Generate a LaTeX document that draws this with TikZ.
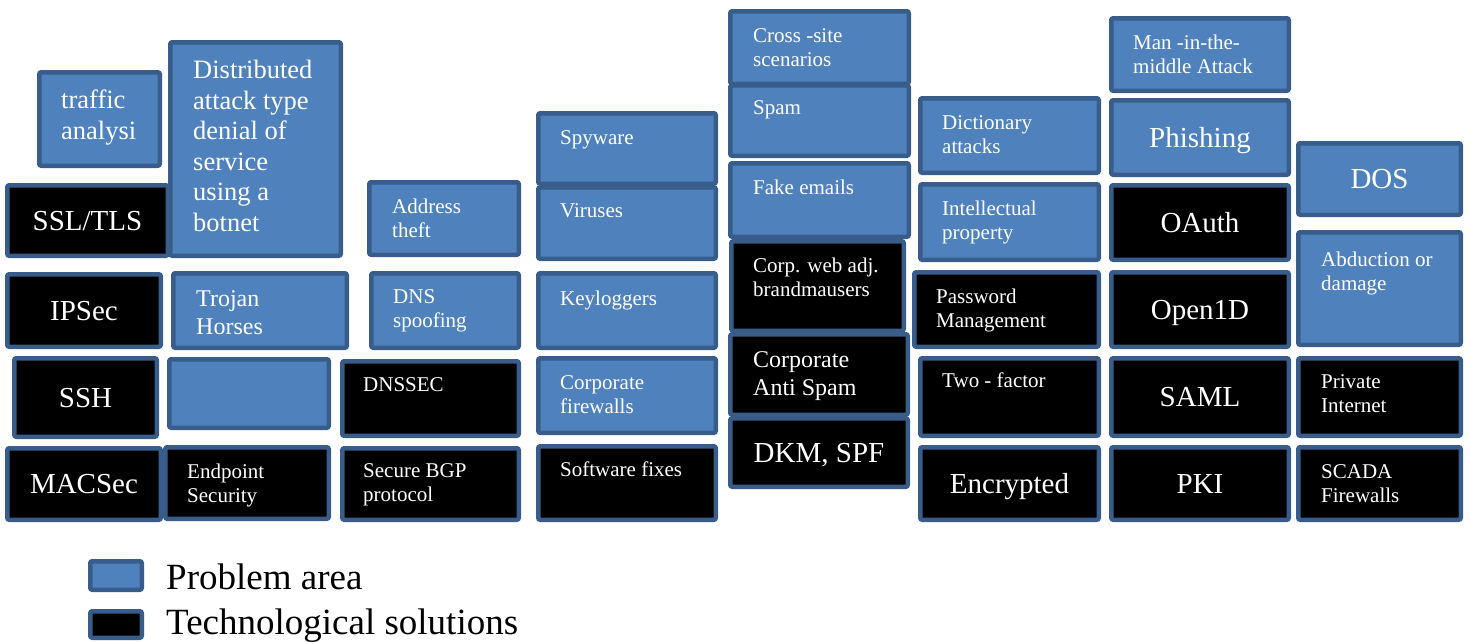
\documentclass[tikz,border=0pt]{standalone}
\usepackage{fontspec}
\setmainfont{Liberation Serif}
\usetikzlibrary{positioning}
\definecolor{ProbBlue}{HTML}{4F81BD}
\definecolor{EdgeBlue}{HTML}{385D8A}
\tikzstyle{Cell} = [draw=EdgeBlue, line width=4.5pt, rounded corners=2pt, anchor=north west, inner sep=0pt]
\tikzstyle{Problem} = [Cell, fill=ProbBlue]
\tikzstyle{Solution} = [Cell, fill=black]
\tikzstyle{Small} = [text=white, font=\fontsize{21}{24}\selectfont, align=left, anchor=north west, inner sep=0pt]
\tikzstyle{Medium} = [Small, font=\fontsize{24}{28}\selectfont]
\tikzstyle{Tall} = [Small, font=\fontsize{26.5}{30.5}\selectfont]
\tikzstyle{Large} = [text=white, font=\fontsize{29}{33}\selectfont, text height=19pt, text depth=0pt]
\tikzstyle{Legend} = [text=black, font=\fontsize{37}{44}\selectfont, text height=24.4pt, text depth=0pt, inner sep=0pt]

\begin{document}
\begin{tikzpicture}[x=1pt, y=-1pt]
    \useasboundingbox (0,0) rectangle (1470,641);
    % column 1
    \node[Problem, minimum width=120.5pt, minimum height=93.5pt] (traffic) at (37,70) {};
    \node[Tall] (traffic-t) at ([shift={(24pt,-20pt)}]traffic.north west) {traffic\\analysi};
    \node[Solution, Large, minimum width=160.5pt, minimum height=70.5pt] (ssl) at (5,183) {SSL/TLS};
    \node[Solution, Large, minimum width=153.5pt, minimum height=72.5pt] (ipsec) at (5,272) {IPSec};
    \node[Solution, Large, minimum width=142.5pt, minimum height=78.5pt] (ssh) at (12,356) {SSH};
    \node[Solution, Large, minimum width=153.5pt, minimum height=71.5pt] (macsec) at (5,446) {MACSec};
    % column 2
    \node[Problem, minimum width=170.5pt, minimum height=213.5pt] (ddos) at (168,40) {};
    \node[Tall] (ddos-t) at ([shift={(25pt,-20pt)}]ddos.north west) {Distributed\\attack type\\denial of\\service\\using a\\botnet};
    \node[Problem, minimum width=173.5pt, minimum height=74.5pt] (trojan) at (171,271) {};
    \node[Medium] (trojan-t) at ([shift={(25pt,-19pt)}]trojan.north west) {Trojan\\Horses};
    \node[Problem, minimum width=159.5pt, minimum height=68.5pt] (blank) at (167,357) {};
    \node[Solution, minimum width=163.5pt, minimum height=71.5pt] (endpoint) at (163,445) {};
    \node[Small] (endpoint-t) at ([shift={(24pt,-18.5pt)}]endpoint.north west) {Endpoint\\Security};
    % column 3
    \node[Problem, minimum width=149.5pt, minimum height=72.5pt] (address) at (367,180) {};
    \node[Small] (address-t) at ([shift={(25pt,-18.5pt)}]address.north west) {Address\\theft};
    \node[Problem, minimum width=147.5pt, minimum height=74.5pt] (dnsspoof) at (369,271) {};
    \node[Small] (dnsspoof-t) at ([shift={(24pt,-18.5pt)}]dnsspoof.north west) {DNS\\spoofing};
    \node[Solution, minimum width=176.5pt, minimum height=74.5pt] (dnssec) at (340,359) {};
    \node[Small] (dnssec-t) at ([shift={(23pt,-18pt)}]dnssec.north west) {DNSSEC};
    \node[Solution, minimum width=176.5pt, minimum height=71.5pt] (bgp) at (340,446) {};
    \node[Small] (bgp-t) at ([shift={(23pt,-17pt)}]bgp.north west) {Secure BGP\\protocol};
    % column 4
    \node[Problem, minimum width=177.5pt, minimum height=70.5pt] (spyware) at (536,111) {};
    \node[Small] (spyware-t) at ([shift={(24pt,-19pt)}]spyware.north west) {Spyware};
    \node[Problem, minimum width=177.5pt, minimum height=71.5pt] (viruses) at (536,185) {};
    \node[Small] (viruses-t) at ([shift={(24pt,-18pt)}]viruses.north west) {Viruses};
    \node[Problem, minimum width=177.5pt, minimum height=74.5pt] (keylog) at (536,271) {};
    \node[Small] (keylog-t) at ([shift={(24pt,-20pt)}]keylog.north west) {Keyloggers};
    \node[Problem, minimum width=177.5pt, minimum height=74.5pt] (corpfw) at (536,356) {};
    \node[Small] (corpfw-t) at ([shift={(24pt,-19pt)}]corpfw.north west) {Corporate\\firewalls};
    \node[Solution, minimum width=177.5pt, minimum height=73.5pt] (swfix) at (536,444) {};
    \node[Small] (swfix-t) at ([shift={(24pt,-18pt)}]swfix.north west) {Software fixes};
    % column 5
    \node[Problem, minimum width=178.5pt, minimum height=72.5pt] (xss) at (728,9) {};
    \node[Small] (xss-t) at ([shift={(25pt,-19pt)}]xss.north west) {Cross -site\\scenarios};
    \node[Problem, minimum width=178.5pt, minimum height=70.5pt] (spam) at (728,83) {};
    \node[Small] (spam-t) at ([shift={(25pt,-17pt)}]spam.north west) {Spam};
    \node[Problem, minimum width=178.5pt, minimum height=73.5pt] (fake) at (728,161) {};
    \node[Small] (fake-t) at ([shift={(25pt,-19pt)}]fake.north west) {Fake emails};
    \node[Solution, minimum width=172.5pt, minimum height=89.5pt] (corpweb) at (729,239) {};
    \node[Small] (corpweb-t) at ([shift={(24pt,-19pt)}]corpweb.north west) {Corp. web adj.\\brandmausers};
    \node[Solution, minimum width=177.5pt, minimum height=80.5pt] (antispam) at (728,332) {};
    \node[Medium] (antispam-t) at ([shift={(25pt,-19pt)}]antispam.north west) {Corporate\\Anti Spam};
    \node[Solution, Large, minimum width=177.5pt, minimum height=68.5pt] (dkm) at (728,416) {DKM, SPF};
    % column 6
    \node[Problem, minimum width=178.5pt, minimum height=74.5pt] (dict) at (918,96) {};
    \node[Small] (dict-t) at ([shift={(24pt,-19pt)}]dict.north west) {Dictionary\\attacks};
    \node[Problem, minimum width=178.5pt, minimum height=75.5pt] (iprop) at (918,182) {};
    \node[Small] (iprop-t) at ([shift={(24pt,-19pt)}]iprop.north west) {Intellectual\\property};
    \node[Solution, minimum width=184.5pt, minimum height=74.5pt] (pwd) at (912,270) {};
    \node[Small] (pwd-t) at ([shift={(24pt,-19pt)}]pwd.north west) {Password\\Management};
    \node[Solution, minimum width=178.5pt, minimum height=77.5pt] (twofac) at (918,356) {};
    \node[Small] (twofac-t) at ([shift={(24pt,-17pt)}]twofac.north west) {Two - factor};
    \node[Solution, Large, minimum width=178.5pt, minimum height=72.5pt] (encr) at (918,445) {Encrypted};
    % column 7
    \node[Problem, minimum width=177.5pt, minimum height=72.5pt] (mitm) at (1109,16) {};
    \node[Small] (mitm-t) at ([shift={(24pt,-19pt)}]mitm.north west) {Man -in-the-\\middle Attack};
    \node[Problem, Large, minimum width=177.5pt, minimum height=74.5pt] (phish) at (1109,98) {Phishing};
    \node[Solution, Large, minimum width=177.5pt, minimum height=74.5pt] (oauth) at (1109,183) {OAuth};
    \node[Solution, Large, minimum width=177.5pt, minimum height=74.5pt] (openid) at (1109,270) {Open1D};
    \node[Solution, Large, minimum width=177.5pt, minimum height=77.5pt] (saml) at (1109,356) {SAML};
    \node[Solution, Large, minimum width=177.5pt, minimum height=72.5pt] (pki) at (1109,445) {PKI};
    % column 8
    \node[Problem, Large, minimum width=162.5pt, minimum height=71.5pt] (dos) at (1296,141) {DOS};
    \node[Problem, minimum width=162.5pt, minimum height=112.5pt] (abduct) at (1296,230) {};
    \node[Small] (abduct-t) at ([shift={(25pt,-22pt)}]abduct.north west) {Abduction or\\damage};
    \node[Solution, minimum width=162.5pt, minimum height=77.5pt] (private) at (1296,356) {};
    \node[Small] (private-t) at ([shift={(25pt,-18pt)}]private.north west) {Private\\Internet};
    \node[Solution, minimum width=162.5pt, minimum height=72.5pt] (scada) at (1296,445) {};
    \node[Small] (scada-t) at ([shift={(25pt,-19pt)}]scada.north west) {SCADA\\Firewalls};
    % legend
    \node[Problem, minimum width=51.5pt, minimum height=28.5pt] (probkey) at (88,559) {};
    \node[Legend, right=22pt of probkey, yshift=-2pt] (probtxt) {Problem area};
    \node[Solution, minimum width=51.5pt, minimum height=26.5pt] (solkey) at (88,609) {};
    \node[Legend, right=22pt of solkey, yshift=2pt] (soltxt) {Technological solutions};
\end{tikzpicture}
\end{document}
